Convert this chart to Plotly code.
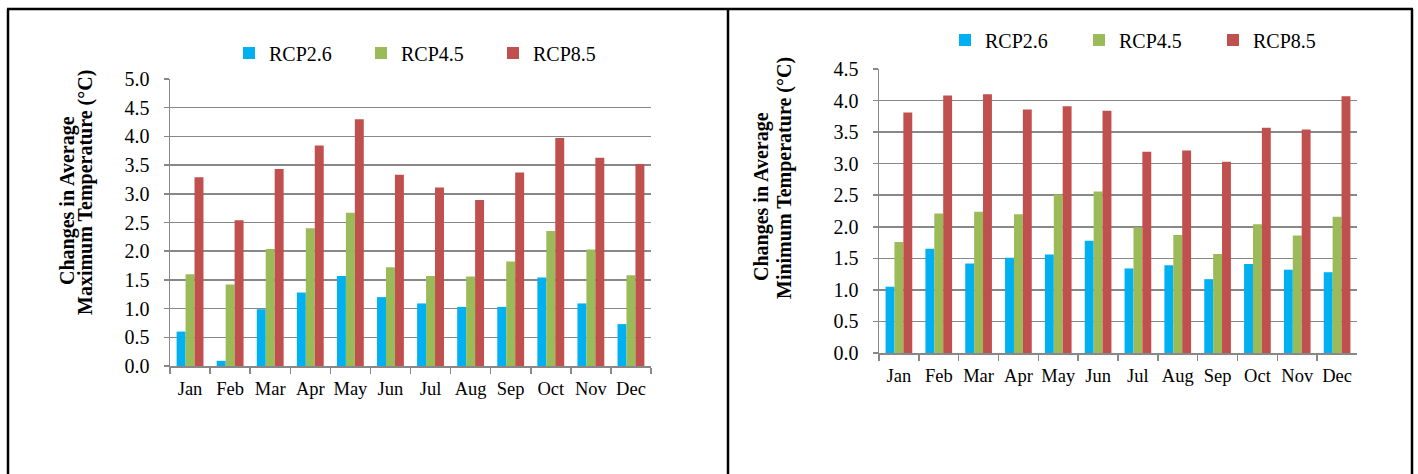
import plotly.graph_objects as go

# Monthly projected temperature changes (°C) under three RCP scenarios
months = ["Jan", "Feb", "Mar", "Apr", "May", "Jun", "Jul", "Aug", "Sep", "Oct", "Nov", "Dec"]

tmax_rcp26 = [0.60, 0.09, 0.99, 1.28, 1.57, 1.20, 1.09, 1.03, 1.03, 1.54, 1.09, 0.73]
tmax_rcp45 = [1.60, 1.42, 2.04, 2.40, 2.67, 1.72, 1.57, 1.56, 1.82, 2.35, 2.03, 1.58]
tmax_rcp85 = [3.29, 2.54, 3.43, 3.84, 4.30, 3.33, 3.11, 2.89, 3.37, 3.97, 3.63, 3.52]

tmin_rcp26 = [1.05, 1.65, 1.42, 1.51, 1.56, 1.78, 1.34, 1.39, 1.17, 1.41, 1.32, 1.28]
tmin_rcp45 = [1.76, 2.21, 2.24, 2.20, 2.51, 2.56, 1.99, 1.87, 1.57, 2.04, 1.86, 2.16]
tmin_rcp85 = [3.81, 4.08, 4.10, 3.86, 3.91, 3.84, 3.19, 3.21, 3.03, 3.57, 3.54, 4.07]

scenarios = ["RCP2.6", "RCP4.5", "RCP8.5"]
colors = ["#00B0F0", "#9BBB59", "#C0504D"]

W, H = 1418, 474
FONT = "Liberation Serif, Times New Roman, Times, serif"
GRID = "#888888"


def px_x(x):
    return x / W


def px_y(y):
    return 1 - y / H


fig = go.Figure()

for name, vals, col in zip(scenarios, [tmax_rcp26, tmax_rcp45, tmax_rcp85], colors):
    fig.add_trace(go.Bar(x=months, y=vals, name=name, marker=dict(color=col, line_width=0),
                         xaxis="x", yaxis="y", legend="legend"))

for name, vals, col in zip(scenarios, [tmin_rcp26, tmin_rcp45, tmin_rcp85], colors):
    fig.add_trace(go.Bar(x=months, y=vals, name=name, marker=dict(color=col, line_width=0),
                         xaxis="x2", yaxis="y2", legend="legend2"))

xaxis_style = dict(
    type="category", tickson="boundaries", ticks="outside", ticklen=6, tickwidth=1.5,
    tickcolor=GRID, showline=True, linecolor=GRID, linewidth=1.5, showgrid=False,
    tickangle=0, tickfont=dict(family=FONT, size=18.5, color="#000"), ticklabelstandoff=5,
    fixedrange=True, automargin=False,
)
yaxis_style = dict(
    ticks="outside", ticklen=5, tickwidth=1.5, tickcolor=GRID, showline=True,
    linecolor=GRID, linewidth=1.5, showgrid=True, gridcolor=GRID, gridwidth=1.5,
    tickformat=".1f", dtick=0.5, tickfont=dict(family=FONT, size=20, color="#000"),
    ticklabelstandoff=10, zeroline=False, fixedrange=True, automargin=False,
)

legend_style = dict(
    orientation="h", font=dict(family=FONT, size=20, color="#000"),
    bgcolor="rgba(0,0,0,0)", borderwidth=0, xanchor="left", yanchor="middle",
    itemwidth=30, entrywidthmode="pixels", traceorder="normal",
    itemclick=False, itemdoubleclick=False,
)

fig.update_layout(
    width=W, height=H, margin=dict(l=0, r=0, t=0, b=0, autoexpand=False),
    paper_bgcolor="white", plot_bgcolor="white",
    barmode="group", bargap=0.33, bargroupgap=0,
    xaxis=dict(domain=[px_x(170), px_x(651)], anchor="y", **xaxis_style),
    yaxis=dict(domain=[px_y(366), px_y(79)], anchor="x", range=[0, 5.0], **yaxis_style),
    xaxis2=dict(domain=[px_x(879), px_x(1357)], anchor="y2", **xaxis_style),
    yaxis2=dict(domain=[px_y(353), px_y(69)], anchor="x2", range=[0, 4.5], **yaxis_style),
    legend=dict(x=px_x(229), y=px_y(53), entrywidth=87, **legend_style),
    legend2=dict(x=px_x(945), y=px_y(40), entrywidth=89, **legend_style),
    showlegend=True,
)

# Frame around the two panels
frame = dict(type="line", xref="paper", yref="paper", line=dict(color="#000", width=2.5))
fig.add_shape(x0=px_x(7), x1=px_x(1413), y0=px_y(9), y1=px_y(9), **frame)
fig.add_shape(x0=px_x(8), x1=px_x(8), y0=px_y(9), y1=0, **frame)
fig.add_shape(x0=px_x(728), x1=px_x(728), y0=px_y(9), y1=0, **frame)
fig.add_shape(x0=px_x(1412), x1=px_x(1412), y0=px_y(9), y1=0, **frame)

# Rotated two-line axis titles
title_font = dict(family=FONT, size=20, color="#000")
titles = [
    ("<b>Changes in Average</b>", 67, 201),
    ("<b>Maximum Temperature (°C)</b>", 85, 193),
    ("<b>Changes in Average</b>", 762, 197),
    ("<b>Minimum Temperature (°C)</b>", 784, 178),
]
for text, x, y in titles:
    fig.add_annotation(text=text, x=px_x(x), y=px_y(y), xref="paper", yref="paper",
                       xanchor="center", yanchor="middle", textangle=-90,
                       showarrow=False, font=title_font)

fig.write_html(
    "out.html",
    config={"staticPlot": True},
    post_script="document.body.style.margin='0';document.body.style.overflow='hidden';",
)
